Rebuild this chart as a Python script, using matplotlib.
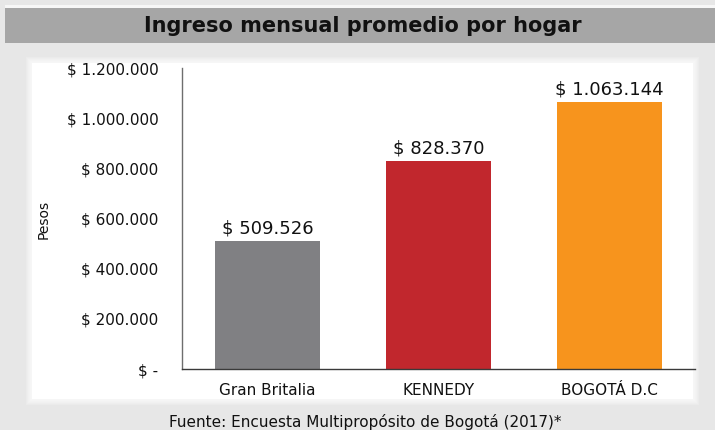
import matplotlib
matplotlib.use("Agg")
import matplotlib.pyplot as plt
from matplotlib.patches import Rectangle

# ---- data ----
categories = ["Gran Britalia", "KENNEDY", "BOGOTÁ D.C"]
values = [509526, 828370, 1063144]
value_labels = ["$ 509.526", "$ 828.370", "$ 1.063.144"]
y_ticks = [0, 200000, 400000, 600000, 800000, 1000000, 1200000]
y_tick_labels = ["$ -", "$ 200.000", "$ 400.000", "$ 600.000",
                 "$ 800.000", "$ 1.000.000", "$ 1.200.000"]
bar_colors = ["#808083", "#C1272D", "#F7941D"]
title = "Ingreso mensual promedio por hogar"
source = "Fuente: Encuesta Multipropósito de Bogotá (2017)*"
y_label = "Pesos"

W, H = 715, 430
fig = plt.figure(figsize=(W / 100, H / 100), dpi=100)
fig.patch.set_facecolor("#e7e7e7")


def rect(x0, y0, x1, y1, color, alpha=1.0, z=-5):
    fig.patches.append(Rectangle((x0 / W, 1 - y1 / H), (x1 - x0) / W, (y1 - y0) / H,
                                 transform=fig.transFigure, facecolor=color,
                                 edgecolor="none", alpha=alpha, zorder=z))


# thin white line above header band
rect(5, 5, 715, 8, "#f7f7f7")
# header band
rect(5, 8, 715, 43, "#a6a6a6")
# soft white panel
for i in range(6, 0, -1):
    rect(32 - i, 63 - i, 693 + i, 399 + i, "white", alpha=0.18)
rect(32, 63, 693, 399, "white")

# axes
ax = fig.add_axes([182 / W, 1 - 369 / H, (695 - 182) / W, (369 - 68) / H])
ax.set_zorder(2)
ax.patch.set_alpha(0)
x = list(range(len(categories)))
bars = ax.bar(x, values, width=0.61, color=bar_colors)
ax.set_xlim(-0.5, len(categories) - 0.5)
ax.set_ylim(0, 1200000)
ax.set_yticks(y_ticks)
ax.set_yticklabels(y_tick_labels)
ax.set_xticks(x)
ax.set_xticklabels(categories)
ax.tick_params(axis="y", length=0, pad=17, labelsize=11, colors="#111111")
ax.tick_params(axis="x", length=0, pad=10, labelsize=11, colors="#111111")
for s in ["top", "right"]:
    ax.spines[s].set_visible(False)
ax.spines["left"].set_color("#6e6e6e")
ax.spines["bottom"].set_color("#3a3a3a")
ax.spines["left"].set_linewidth(1.0)
ax.spines["bottom"].set_linewidth(1.0)

for b, lab in zip(bars, value_labels):
    ax.annotate(lab, (b.get_x() + b.get_width() / 2, b.get_height()),
                xytext=(0, 3), textcoords="offset points",
                ha="center", va="bottom", fontsize=13, color="#111111")

fig.text(363 / W, 1 - 26 / H, title, ha="center", va="center",
         fontsize=15, fontweight="bold", color="#111111")
fig.text(44 / W, 1 - 219 / H, y_label, ha="center", va="center",
         rotation=90, fontsize=10, color="#111111")
fig.text(365 / W, 1 - 422 / H, source, ha="center", va="center",
         fontsize=11, color="#111111")

fig.savefig("out.png", dpi=100, facecolor=fig.get_facecolor())
